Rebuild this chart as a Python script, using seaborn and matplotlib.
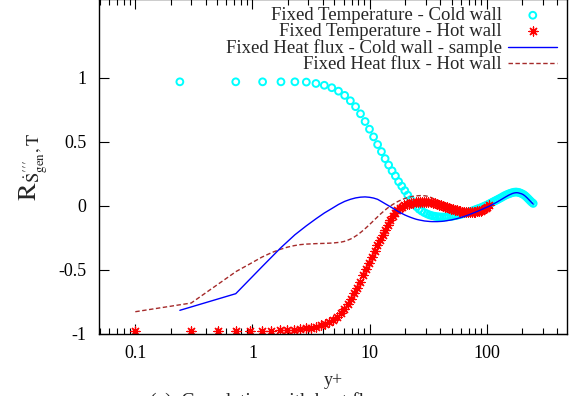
import matplotlib
matplotlib.use("Agg")
import matplotlib.pyplot as plt
from matplotlib.ticker import FixedLocator, LogLocator, NullFormatter, FixedFormatter
import seaborn as sns

# Wall-normal grid points in wall units, hot side and cold side of the channel
yplus_hot = [
    0.10, 0.30, 0.51, 0.73, 0.96, 1.20, 1.45, 1.71, 1.98, 2.26,
    2.55, 2.85, 3.16, 3.48, 3.81, 4.15, 4.50, 4.87, 5.25, 5.64,
    6.05, 6.47, 6.91, 7.36, 7.83, 8.31, 8.81, 9.33, 9.87, 10.43,
    11.01, 11.61, 12.23, 12.87, 13.53, 14.22, 14.93, 15.67, 16.43, 17.22,
    18.04, 18.89, 19.77, 20.68, 21.62, 22.59, 23.60, 24.64, 25.72, 26.84,
    28.00, 29.20, 30.44, 31.72, 33.05, 34.42, 35.84, 37.31, 38.83, 40.41,
    42.04, 43.73, 45.48, 47.29, 49.16, 51.10, 53.10, 55.17, 57.31, 59.52,
    61.80, 64.15, 66.57, 69.06, 71.62, 74.25, 76.95, 79.71, 82.53, 85.41,
    88.34, 91.32, 94.34, 97.39, 100.47, 103.57,
]
yplus_cold = [
    0.24, 0.72, 1.22, 1.75, 2.30, 2.88, 3.48, 4.10, 4.75, 5.42,
    6.12, 6.84, 7.58, 8.35, 9.14, 9.96, 10.80, 11.69, 12.60, 13.54,
    14.52, 15.53, 16.58, 17.66, 18.79, 19.94, 21.14, 22.39, 23.69, 25.03,
    26.42, 27.86, 29.35, 30.89, 32.47, 34.13, 35.83, 37.61, 39.43, 41.33,
    43.30, 45.34, 47.45, 49.63, 51.89, 54.22, 56.64, 59.14, 61.73, 64.42,
    67.20, 70.08, 73.06, 76.13, 79.32, 82.61, 86.02, 89.54, 93.18, 96.98,
    100.90, 104.96, 109.15, 113.50, 117.98, 122.64, 127.44, 132.41, 137.57, 142.85,
    148.32, 153.96, 159.77, 165.74, 171.89, 178.20, 184.67, 191.30, 198.07, 204.98,
    212.02, 219.17, 226.42, 233.74, 241.13, 248.57,
]

# Fixed temperature, cold wall
r_ft_cold = [
    0.97, 0.97, 0.97, 0.97, 0.97, 0.968, 0.957, 0.943, 0.924, 0.897,
    0.864, 0.822, 0.776, 0.72, 0.66, 0.60, 0.54, 0.48, 0.425, 0.37,
    0.32, 0.275, 0.235, 0.19, 0.155, 0.12, 0.085, 0.05, 0.02, -0.005,
    -0.025, -0.04, -0.052, -0.062, -0.07, -0.076, -0.08, -0.083, -0.085, -0.086,
    -0.086, -0.085, -0.083, -0.081, -0.078, -0.075, -0.071, -0.067, -0.062, -0.058,
    -0.053, -0.048, -0.042, -0.036, -0.03, -0.024, -0.018, -0.012, -0.005, 0.002,
    0.009, 0.017, 0.025, 0.033, 0.041, 0.049, 0.057, 0.065, 0.074, 0.082,
    0.089, 0.095, 0.1, 0.105, 0.108, 0.109, 0.107, 0.103, 0.097, 0.09,
    0.08, 0.068, 0.055, 0.042, 0.03, 0.02,
]

# Fixed temperature, hot wall
r_ft_hot = [
    -0.975, -0.975, -0.975, -0.975, -0.975, -0.974, -0.973, -0.971, -0.968, -0.965,
    -0.961, -0.956, -0.95, -0.942, -0.932, -0.92, -0.905, -0.887, -0.864, -0.837,
    -0.805, -0.768, -0.727, -0.683, -0.637, -0.59, -0.542, -0.494, -0.446, -0.398,
    -0.352, -0.307, -0.264, -0.224, -0.186, -0.148, -0.112, -0.08, -0.054, -0.033,
    -0.016, -0.004, 0.006, 0.013, 0.019, 0.023, 0.026, 0.028, 0.029, 0.029,
    0.03, 0.031, 0.031, 0.03, 0.028, 0.025, 0.021, 0.016, 0.011, 0.005,
    0.0, -0.005, -0.01, -0.015, -0.02, -0.025, -0.029, -0.033, -0.037, -0.04,
    -0.044, -0.046, -0.047, -0.048, -0.048, -0.048, -0.047, -0.045, -0.043, -0.04,
    -0.036, -0.031, -0.025, -0.017, -0.007, 0.005,
]

# Fixed heat flux, cold wall (sample)
yplus_hf_cold = [
    0.24, 0.72, 1.22, 1.75, 2.30, 2.88, 3.48, 4.10, 4.75, 5.42,
    6.12, 6.84, 7.58, 8.35, 9.14, 9.96, 10.80, 11.69, 12.60, 13.54,
    14.52, 15.53, 16.58, 17.66, 18.79, 19.94, 21.14, 22.39, 23.69, 25.03,
    26.42, 27.86, 29.35, 30.89, 32.47, 34.13, 35.83, 37.61, 39.43, 41.33,
    43.30, 45.34, 47.45, 49.63, 54.22, 59.14, 64.42, 70.08, 76.13, 82.61,
    89.54, 96.98, 104.96, 113.50, 122.64, 132.41, 142.85, 153.96, 165.74, 171.89,
    178.20, 184.67, 191.30, 198.07, 204.98, 212.02, 219.17, 226.42, 233.74, 241.13,
    248.57,
]
r_hf_cold = [
    -0.815, -0.685, -0.47, -0.325, -0.225, -0.155, -0.10, -0.055, -0.02, 0.012,
    0.036, 0.052, 0.063, 0.069, 0.071, 0.068, 0.062, 0.052, 0.035, 0.018,
    0.002, -0.014, -0.03, -0.045, -0.058, -0.07, -0.08, -0.089, -0.097, -0.104,
    -0.109, -0.113, -0.117, -0.119, -0.121, -0.122, -0.122, -0.122, -0.121, -0.12,
    -0.118, -0.115, -0.112, -0.109, -0.101, -0.092, -0.081, -0.069, -0.056, -0.043,
    -0.029, -0.015, -0.001, 0.015, 0.032, 0.05, 0.068, 0.085, 0.098, 0.102,
    0.104, 0.103, 0.099, 0.095, 0.088, 0.078, 0.066, 0.053, 0.04, 0.027,
    0.015,
]

# Fixed heat flux, hot wall
yplus_hf_hot = [
    0.10, 0.30, 0.51, 0.73, 0.96, 1.20, 1.45, 1.71, 1.98, 2.26,
    2.55, 2.85, 3.48, 4.15, 4.87, 5.64, 6.05, 6.47, 6.91, 7.36,
    7.83, 8.31, 8.81, 9.33, 9.87, 10.43, 11.01, 11.61, 12.23, 12.87,
    13.53, 14.22, 14.93, 15.67, 16.43, 17.22, 18.04, 18.89, 19.77, 20.68,
    21.62, 22.59, 23.60, 24.64, 25.72, 26.84, 28.00, 29.20, 30.44, 31.72,
    33.05, 34.42, 35.84, 37.31, 38.83, 40.41, 42.04, 45.48, 49.16, 53.10,
    57.31, 61.80, 66.57, 71.62, 76.95, 82.53, 88.34, 94.34, 100.47, 103.57,
]
r_hf_hot = [
    -0.826, -0.758, -0.61, -0.51, -0.45, -0.40, -0.365, -0.34, -0.322, -0.31,
    -0.302, -0.298, -0.294, -0.292, -0.289, -0.283, -0.277, -0.268, -0.257, -0.243,
    -0.227, -0.209, -0.19, -0.17, -0.149, -0.128, -0.107, -0.087, -0.067, -0.049,
    -0.032, -0.016, -0.002, 0.011, 0.022, 0.033, 0.042, 0.05, 0.057, 0.063,
    0.068, 0.072, 0.076, 0.078, 0.08, 0.081, 0.081, 0.08, 0.078, 0.074,
    0.068, 0.061, 0.053, 0.045, 0.037, 0.03, 0.024, 0.012, 0.0, -0.012,
    -0.022, -0.03, -0.036, -0.04, -0.042, -0.041, -0.036, -0.027, -0.012, -0.003,
]

series_labels = [
    "Fixed Temperature - Cold wall",
    "Fixed Temperature - Hot wall",
    "Fixed Heat flux - Cold wall - sample",
    "Fixed Heat flux - Hot wall",
]
xtick_values = [0.1, 1, 10, 100]
xtick_labels = ["0.1", "1", "10", "100"]
ytick_values = [-1, -0.5, 0, 0.5, 1]
ytick_labels = ["-1", "-0.5", "0", "0.5", "1"]

sns.set_style("ticks")
plt.rcParams.update({
    "font.family": ["Liberation Serif", "DejaVu Serif"],
    "mathtext.fontset": "stix",
    "axes.unicode_minus": False,
    "axes.linewidth": 1.0,
    "axes.edgecolor": "black",
    "xtick.direction": "in",
    "ytick.direction": "in",
    "xtick.color": "black",
    "ytick.color": "black",
})

fig = plt.figure(figsize=(5.74, 3.96), dpi=100)
ax = fig.add_axes([99 / 574, 1 - 334 / 396, 468 / 574, 335 / 396])

CYAN = "#00ffff"
RED = "#ff0000"
BLUE = "#0000ff"
BROWN = "#a52a2a"

sns.scatterplot(x=yplus_cold, y=r_ft_cold, ax=ax, marker="o", s=24,
                color=CYAN, facecolor="none", edgecolor=CYAN, linewidth=1.4,
                zorder=2, label=series_labels[0])
sns.lineplot(x=yplus_hf_hot, y=r_hf_hot, ax=ax, color=BROWN, linewidth=1.0,
             linestyle=(0, (3.2, 1.8)), zorder=2.2, label=series_labels[3],
             sort=False, estimator=None)
sns.scatterplot(x=yplus_hot, y=r_ft_hot, ax=ax, marker=(8, 2, 0), s=42,
                color=RED, edgecolor=None, linewidth=0.9,
                zorder=2.5, label=series_labels[1])
sns.lineplot(x=yplus_hf_cold, y=r_hf_cold, ax=ax, color=BLUE, linewidth=1.0,
             zorder=3, label=series_labels[2], sort=False, estimator=None)

ax.set_xscale("log")
ax.set_xlim(0.049, 483)
ax.set_ylim(-1, 1.617)

ax.xaxis.set_major_locator(FixedLocator(xtick_values))
ax.xaxis.set_major_formatter(FixedFormatter(xtick_labels))
ax.xaxis.set_minor_locator(LogLocator(base=10, subs=range(2, 10), numticks=20))
ax.xaxis.set_minor_formatter(NullFormatter())
ax.yaxis.set_major_locator(FixedLocator(ytick_values))
ax.yaxis.set_major_formatter(FixedFormatter(ytick_labels))

ax.tick_params(axis="both", which="major", length=7, width=0.8, labelsize=13,
               top=True, right=True)
ax.tick_params(axis="x", which="major", pad=8)
ax.tick_params(axis="y", which="major", pad=9)
ax.tick_params(axis="x", which="minor", length=4, width=0.8, top=True)

for side in ("left", "right", "top", "bottom"):
    ax.spines[side].set_visible(True)
    ax.spines[side].set_linewidth(1.0)

ax.set_xlabel("y+", fontsize=13)
ax.xaxis.set_label_coords(0.5, -0.113)
ax.set_ylabel(r"$\mathrm{R}_{\dot{\mathrm{S}}^{\prime\prime\prime}_{\mathrm{gen}},\mathrm{T}}$",
              fontsize=19)
ax.yaxis.set_label_coords(-0.105, 0.5)

handles, labels = ax.get_legend_handles_labels()
order = [labels.index(lbl) for lbl in series_labels]
ax.legend([handles[i] for i in order], [labels[i] for i in order],
          loc="upper right", bbox_to_anchor=(0.979, 0.976), frameon=False,
          markerfirst=False, fontsize=13.5, handlelength=2.6,
          handletextpad=0.35, labelspacing=-0.05, borderpad=0.0,
          borderaxespad=0.0, scatterpoints=1)

fig.text(150 / 574, 0.0101, "(a)  Correlation with heat flux", fontsize=14,
         va="top", ha="left")

fig.savefig("out.png", dpi=100)
